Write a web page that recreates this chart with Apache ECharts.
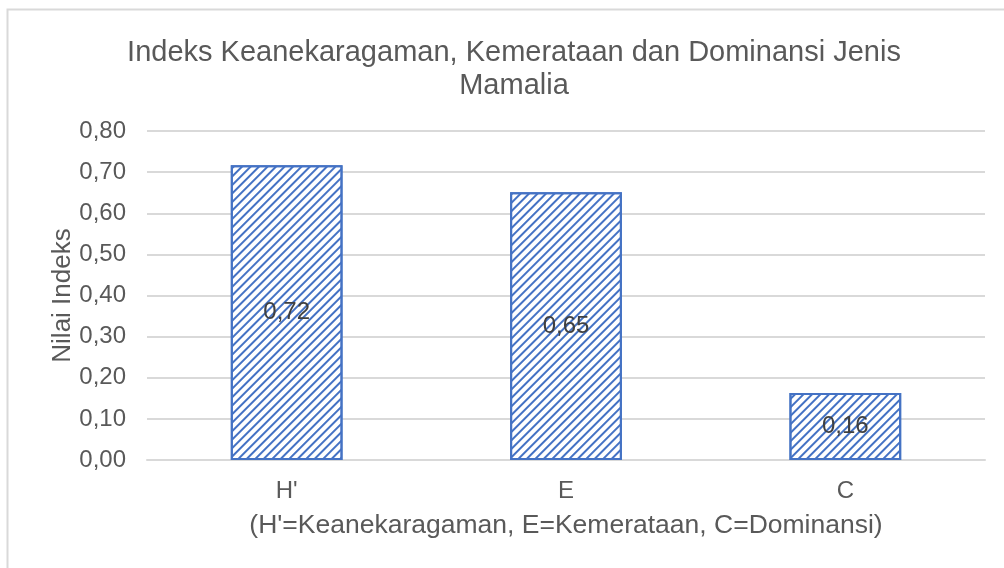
<!DOCTYPE html>
<html>
<head>
<meta charset="utf-8">
<script src="https://cdn.jsdelivr.net/npm/echarts@6/dist/echarts.min.js"></script>
<style>
  html, body { margin: 0; padding: 0; background: #fff; }
  #main { width: 1004px; height: 568px; }
</style>
</head>
<body>
<div id="main"></div>
<script>
var chartDom = document.getElementById('main');
var myChart = echarts.init(chartDom);
var option;

// data
var categories = ["H'", 'E', 'C'];
var indexValues = [0.717, 0.651, 0.163];
var yTicks = [0, 0.1, 0.2, 0.3, 0.4, 0.5, 0.6, 0.7, 0.8];

var textColor = '#595959';
var blue = '#4472C4';
var font = 'Liberation Sans';

function comma(v) {
  return v.toFixed(2).replace('.', ',');
}

option = {
  backgroundColor: '#fff',
  textStyle: { fontFamily: font },
  title: {
    text: 'Indeks Keanekaragaman, Kemerataan dan Dominansi Jenis\nMamalia',
    left: 509,
    textAlign: 'center',
    top: 31,
    textStyle: {
      fontFamily: font,
      fontSize: 29,
      fontWeight: 'normal',
      color: textColor,
      lineHeight: 33
    }
  },
  graphic: [
    {
      type: 'rect',
      shape: { x: 7.5, y: 9.5, width: 1010, height: 600 },
      style: { fill: 'none', stroke: '#d9d9d9', lineWidth: 2 },
      silent: true
    }
  ],
  grid: {
    left: 147,
    right: 19,
    top: 131,
    bottom: 108
  },
  xAxis: {
    type: 'category',
    data: categories,
    name: "(H'=Keanekaragaman, E=Kemerataan, C=Dominansi)",
    nameLocation: 'middle',
    nameGap: 52,
    nameMoveOverlap: false,
    nameTextStyle: { fontFamily: font, fontSize: 26.5, color: textColor },
    axisLine: { lineStyle: { color: '#d9d9d9', width: 2 } },
    axisTick: { show: false },
    axisLabel: { fontFamily: font, fontSize: 24, color: textColor, margin: 19 }
  },
  yAxis: {
    type: 'value',
    min: 0,
    max: 0.8,
    interval: 0.1,
    name: 'Nilai Indeks',
    nameLocation: 'middle',
    nameGap: 71,
    nameMoveOverlap: false,
    nameTextStyle: { fontFamily: font, fontSize: 26, color: textColor },
    axisLine: { show: false },
    axisTick: { show: false },
    splitLine: { lineStyle: { color: '#d9d9d9', width: 2 } },
    axisLabel: {
      fontFamily: font,
      fontSize: 24,
      color: textColor,
      margin: 21,
      formatter: function (v) { return comma(v); }
    }
  },
  series: [
    {
      type: 'bar',
      data: indexValues,
      barWidth: '40%',
      itemStyle: {
        color: '#fff',
        borderColor: blue,
        borderWidth: 2,
        decal: {
          symbol: 'rect',
          symbolSize: 1,
          color: blue,
          dashArrayX: [1, 0],
          dashArrayY: [1.2, 3.8],
          rotation: -Math.PI / 4
        }
      },
      label: {
        show: true,
        position: 'inside',
        fontFamily: font,
        fontSize: 24,
        color: '#404040',
        formatter: function (p) { return comma(p.value); }
      }
    }
  ]
};

option && myChart.setOption(option);
</script>
</body>
</html>
